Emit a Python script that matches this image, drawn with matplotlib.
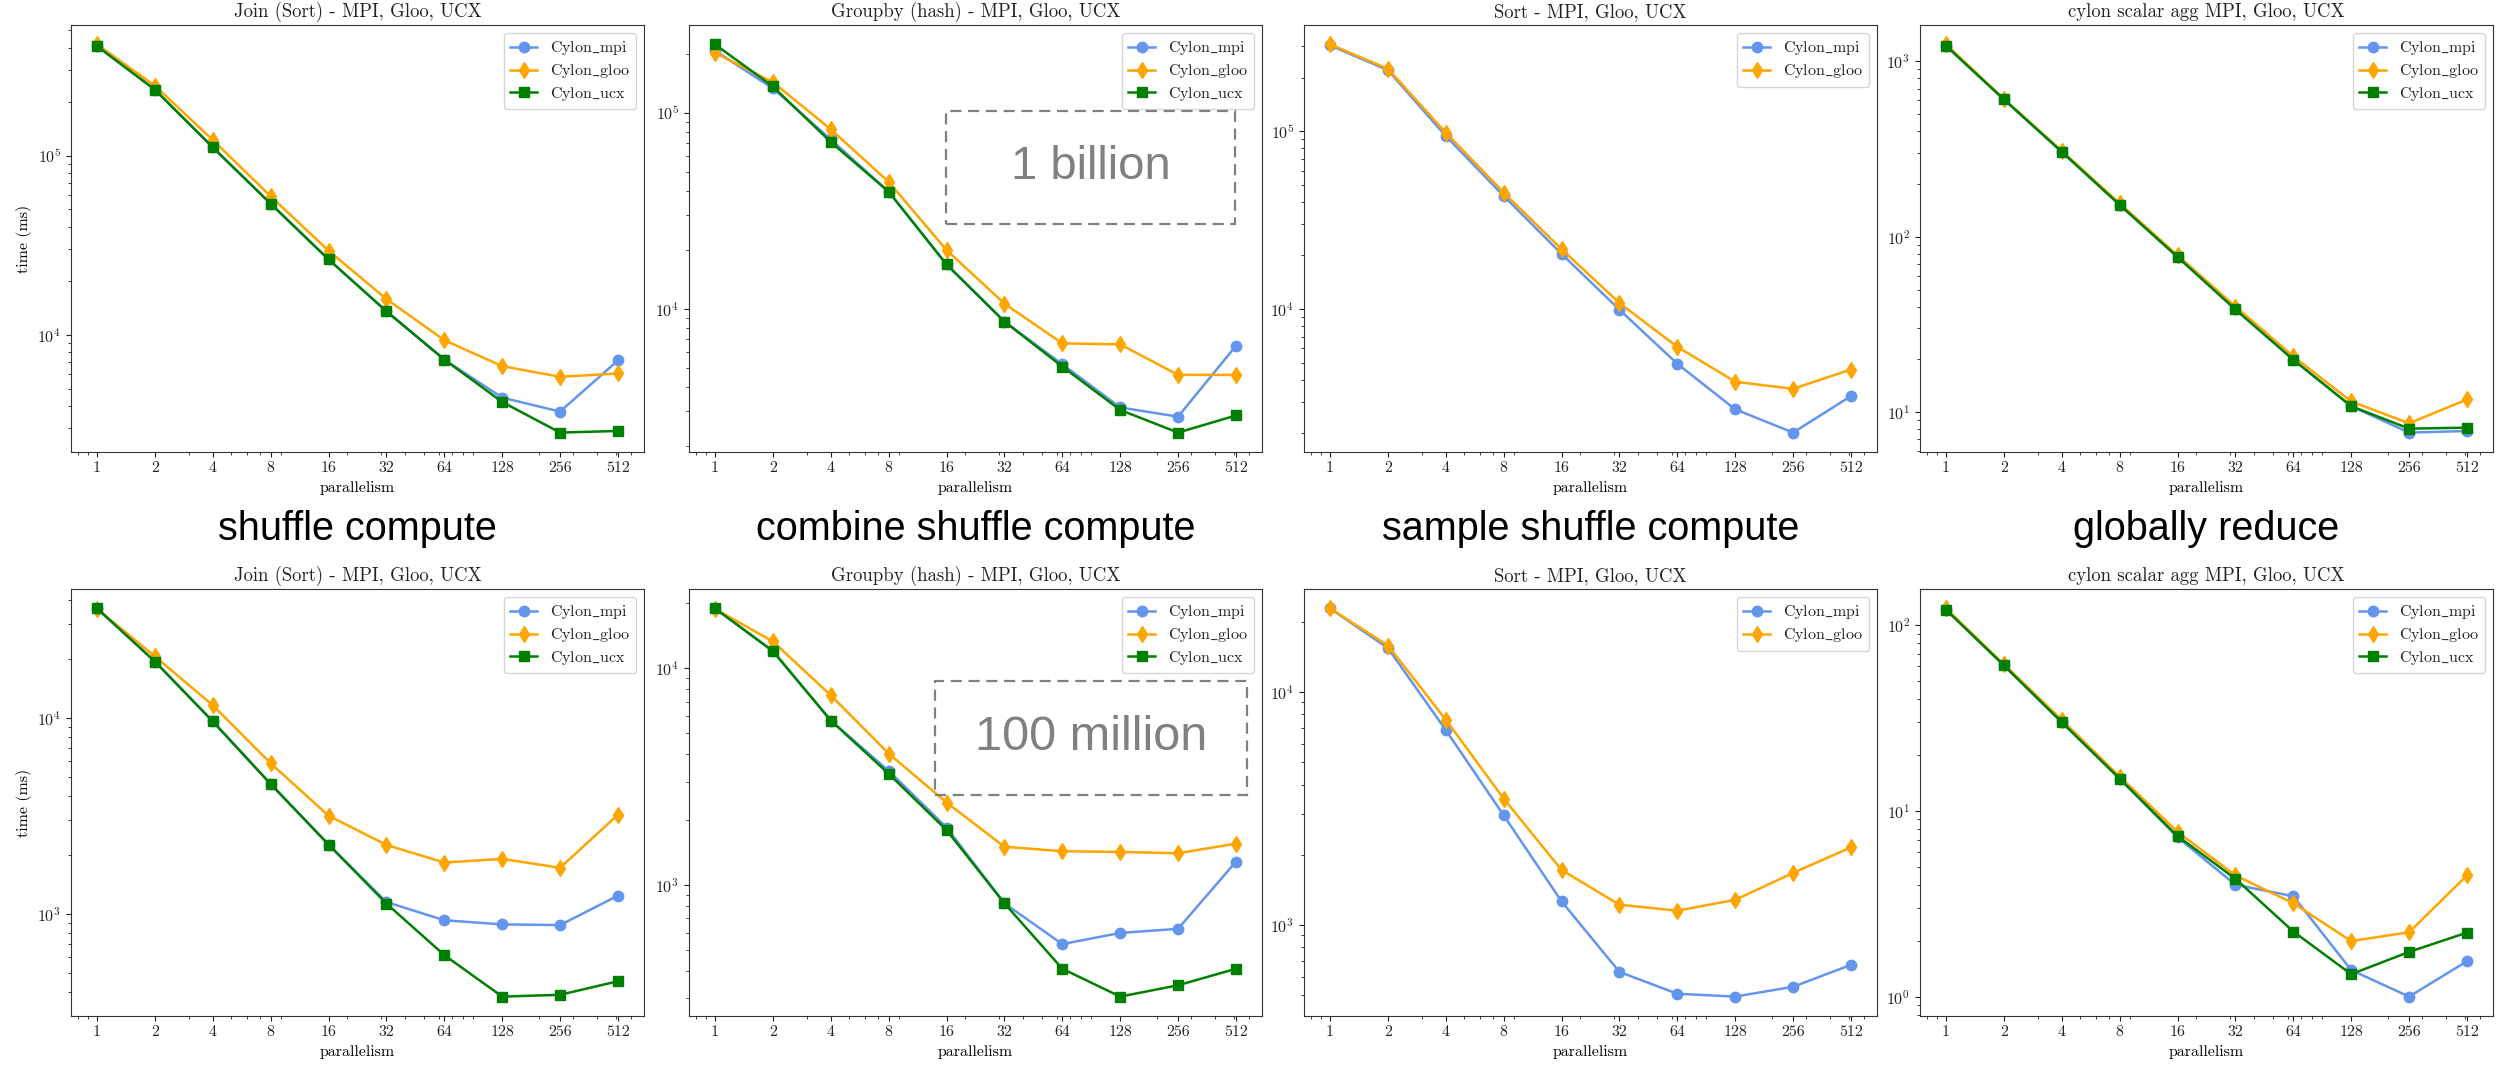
import matplotlib
matplotlib.use("Agg")
import matplotlib.pyplot as plt
from matplotlib.patches import Rectangle

# parallelism levels (x axis)
par = [1, 2, 4, 8, 16, 32, 64, 128, 256, 512]

# top row - 1 billion rows
join_1b_mpi = [408000, 233000, 111000, 53800, 26300, 13500, 7260, 4450, 3720, 7180]
join_1b_gloo = [417000, 245000, 122000, 59200, 29400, 15800, 9310, 6670, 5820, 6070]
join_1b_ucx = [408000, 233000, 111000, 53800, 26300, 13500, 7260, 4210, 2840, 2900]

groupby_1b_mpi = [207000, 133000, 73000, 39500, 16800, 8590, 5200, 3130, 2810, 6460]
groupby_1b_gloo = [202000, 143000, 82200, 44300, 19900, 10600, 6650, 6570, 4590, 4590]
groupby_1b_ucx = [223000, 136000, 70800, 39500, 16800, 8590, 5060, 3040, 2330, 2850]

sort_1b_mpi = [303000, 220000, 93800, 43200, 20400, 9910, 4920, 2730, 2020, 3240]
sort_1b_gloo = [307000, 224000, 97900, 45100, 21700, 10800, 6130, 3900, 3560, 4570]

agg_1b_mpi = [1227, 607, 305, 152, 76.7, 38.5, 19.9, 10.8, 7.64, 7.8]
agg_1b_gloo = [1250, 611, 309, 155, 78.4, 40.0, 20.8, 11.5, 8.63, 11.8]
agg_1b_ucx = [1227, 607, 305, 152, 76.7, 38.5, 19.9, 10.8, 8.05, 8.15]

# bottom row - 100 million rows
join_100m_mpi = [36200, 19400, 9600, 4600, 2260, 1150, 929, 885, 878, 1240]
join_100m_gloo = [36000, 20600, 11600, 5870, 3170, 2250, 1830, 1910, 1720, 3210]
join_100m_ucx = [36200, 19400, 9600, 4600, 2260, 1130, 617, 379, 387, 454]

groupby_100m_mpi = [18900, 12000, 5740, 3360, 1840, 822, 533, 600, 627, 1280]
groupby_100m_gloo = [18800, 13300, 7500, 4040, 2400, 1500, 1430, 1420, 1400, 1550]
groupby_100m_ucx = [18900, 12000, 5740, 3260, 1790, 822, 410, 305, 344, 410]

sort_100m_mpi = [22800, 15400, 6850, 2950, 1260, 628, 506, 492, 542, 673]
sort_100m_gloo = [22800, 15800, 7590, 3480, 1720, 1220, 1150, 1280, 1670, 2150]

agg_100m_mpi = [121, 60.7, 30.0, 14.9, 7.2, 4.0, 3.47, 1.39, 1.0, 1.55]
agg_100m_gloo = [123, 61.5, 30.9, 15.3, 7.7, 4.49, 3.18, 1.99, 2.22, 4.49]
agg_100m_ucx = [121, 60.7, 30.0, 14.9, 7.31, 4.31, 2.24, 1.32, 1.74, 2.21]

titles = ["Join (Sort) - MPI, Gloo, UCX", "Groupby (hash) - MPI, Gloo, UCX",
          "Sort - MPI, Gloo, UCX", "cylon scalar agg MPI, Gloo, UCX"]
row_labels = ["shuffle compute", "combine shuffle compute",
              "sample shuffle compute", "globally reduce"]

plt.rcParams["font.family"] = ["cmr10", "DejaVu Serif"]
plt.rcParams["mathtext.fontset"] = "cm"
plt.rcParams["axes.formatter.use_mathtext"] = True
plt.rcParams["text.color"] = "#222222"
plt.rcParams["xtick.color"] = "#222222"
plt.rcParams["ytick.color"] = "#222222"
plt.rcParams["axes.edgecolor"] = "#333333"

W, H = 2496, 1066
fig = plt.figure(figsize=(W / 100, H / 100), dpi=100)

lefts = [71, 689, 1304, 1920]
ax_w = 573
rows = [(25, 452), (589, 1016)]  # top, bottom in pixels


def make_ax(col, row):
    top, bottom = rows[row]
    return fig.add_axes([lefts[col] / W, 1 - bottom / H, ax_w / W, (bottom - top) / H])


def draw(ax, title, mpi, gloo, ucx=None, ylabel=False):
    ax.plot(par, mpi, marker="o", color="cornflowerblue", lw=1.8, ms=7.5,
            label=r"$\mathrm{Cylon\_mpi}$")
    ax.plot(par, gloo, marker="d", color="orange", lw=1.8, ms=8,
            label=r"$\mathrm{Cylon\_gloo}$")
    if ucx is not None:
        ax.plot(par, ucx, marker="s", color="green", lw=1.8, ms=7.5,
                label=r"$\mathrm{Cylon\_ucx}$")
    ax.set_xscale("log")
    ax.set_yscale("log")
    ax.set_xticks(par, labels=[str(p) for p in par])
    ax.tick_params(labelsize=11.5)
    ax.set_title(title, fontsize=13.5)
    ax.set_xlabel("parallelism", fontsize=11.5)
    if ylabel:
        ax.set_ylabel("time (ms)", fontsize=11.5)
    ax.legend(loc="upper right", fontsize=11.5, labelspacing=0.3, borderpad=0.4,
              handlelength=1.7)


top_data = [(join_1b_mpi, join_1b_gloo, join_1b_ucx),
            (groupby_1b_mpi, groupby_1b_gloo, groupby_1b_ucx),
            (sort_1b_mpi, sort_1b_gloo, None),
            (agg_1b_mpi, agg_1b_gloo, agg_1b_ucx)]
bottom_data = [(join_100m_mpi, join_100m_gloo, join_100m_ucx),
               (groupby_100m_mpi, groupby_100m_gloo, groupby_100m_ucx),
               (sort_100m_mpi, sort_100m_gloo, None),
               (agg_100m_mpi, agg_100m_gloo, agg_100m_ucx)]

for i in range(4):
    ax = make_ax(i, 0)
    draw(ax, titles[i], *top_data[i], ylabel=(i == 0))
    ax = make_ax(i, 1)
    draw(ax, titles[i], *bottom_data[i], ylabel=(i == 0))
    # row captions between the two rows
    cx = (lefts[i] + ax_w / 2) / W
    fig.text(cx, 1 - 540 / H, row_labels[i], ha="center", va="baseline",
             fontsize=28.5, family="Liberation Sans", color="black")

# dashed boxes with data size labels
for (x0, y0, x1, y1, txt, fs) in [(946, 111, 1235, 224, "1 billion", 34),
                                  (935, 681, 1247, 795, "100 million", 35)]:
    fig.patches.append(Rectangle((x0 / W, 1 - y1 / H), (x1 - x0) / W, (y1 - y0) / H,
                                 transform=fig.transFigure, fill=False,
                                 edgecolor="#808080", lw=1.6, ls=(0, (5, 3))))
    fig.text((x0 + x1) / 2 / W, 1 - (y0 + y1) / 2 / H, txt, ha="center", va="center",
             fontsize=fs, family="Liberation Sans", color="#808080")

fig.savefig("out.png", dpi=100)
